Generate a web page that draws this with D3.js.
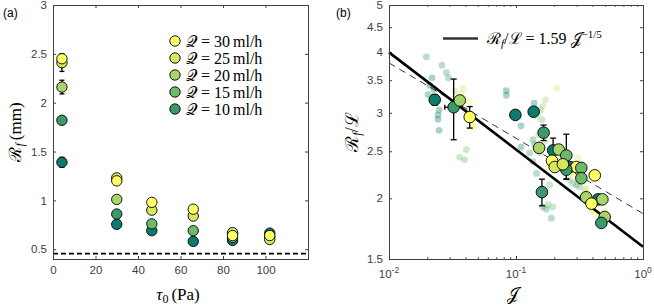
<!DOCTYPE html>
<html><head><meta charset="utf-8">
<script src="https://cdn.jsdelivr.net/npm/d3@7"></script>
<style>
body{margin:0;background:#fff;}
</style></head>
<body>
<svg id="c" width="654" height="308"></svg>
<script>
// ---------- DATA ----------
const palette = ["#0b7b6b","#3a9a6a","#6dbb6a","#a8d46a","#d8e85c","#ffff66"];
// panel (a)
const tau0 = [4.2, 30, 46.5, 66, 84.5, 102];
const seriesA = [
  {name:"Q5",  c:0, v:[1.39, 0.755, 0.69, 0.58, 0.59, 0.665], e:[0.05,0,0,0,0.03,0]},
  {name:"Q10", c:1, v:[1.82, 0.86, null, null, null, null],  e:[0,0,0,0,0,0]},
  {name:"Q15", c:2, v:[null, null, 0.76, 0.69, 0.62, 0.63],  e:[0,0,0,0,0,0]},
  {name:"Q20", c:3, v:[2.16, 1.01, null, null, 0.66, null],  e:[0.07,0,0,0,0,0]},
  {name:"Q25", c:4, v:[2.41, 1.23, 0.90, 0.84, 0.67, 0.60],  e:[0.09,0,0,0,0,0]},
  {name:"Q30", c:5, v:[2.45, 1.20, 0.98, 0.91, 0.64, 0.64],  e:[0,0,0,0,0,0]}
];
const legendQ = ["30","25","20","15","10"];
const legendC = [5,4,3,2,1];
const minR = 0.455;
const xTicksA = [0,20,40,60,80,100];
const yTicksA = [0.5,1,1.5,2,2.5,3];

// panel (b) background (faint) points
const fJ = [0.0197,0.0261,0.0283,0.0294,0.0218,0.0209,0.0203,0.0248,0.0243,0.0248,0.0243,0.0225,
  0.0329,0.0383,0.0372,0.0372,0.0432,0.0446,0.0462,0.0462,0.0407,0.036,0.0394,0.040,0.042,
  0.084,0.084,0.1096,0.1096,0.139,0.163,0.170,0.156,0.21,0.148,0.16,
  0.128,0.136,0.145,0.136,0.170,0.156,0.179,0.184,0.163,0.173,0.190,0.179,0.195,0.15,0.14,
  0.265,0.281,0.318,0.347,0.38,0.393,0.417,0.402,0.43,0.499,0.308,0.337,0.299,
  0.20,0.22,0.25,0.23,0.27,0.29,0.36,0.40,0.45];
const fR = [3.91,3.76,3.63,3.54,3.54,3.42,3.27,3.04,2.91,2.76,2.97,3.35,
  3.32,3.37,3.21,3.29,3.16,2.88,2.82,2.79,2.52,2.43,2.40,3.02,2.95,
  3.33,3.26,2.82,2.55,3.14,3.10,3.19,3.04,3.37,2.95,2.90,
  2.48,2.38,2.25,2.64,2.62,2.48,2.31,2.13,1.92,1.90,1.82,1.94,1.92,2.70,2.58,
  2.18,2.15,2.11,2.08,1.98,1.90,1.88,1.89,1.86,1.88,2.42,2.32,2.13,
  2.30,2.36,2.28,2.40,2.25,2.24,2.10,2.02,1.95];
const fC = [1,1,1,1,0,0,0,0,0,0,0,0,
  3,4,4,4,5,5,5,5,2,2,2,4,5,
  0,0,0,0,0,3,3,2,4,3,2,
  1,1,1,1,3,2,5,2,1,1,1,2,2,3,1,
  2,2,2,3,4,5,5,4,5,4,4,4,1,
  5,5,4,4,3,5,4,5,4];
// panel (b) main points
const bJ = [0.0229,0.0323,0.0361,0.0432,0.0989,0.1377,0.165,0.152,0.196,0.217,0.249,0.192,0.2018,0.265,0.299,0.327,0.249,0.417,0.327,0.160,0.357,0.443,0.479,0.393,0.499,0.47,0.234];
const bR = [3.19,3.08,3.18,2.94,2.97,3.015,2.73,2.54,2.51,2.52,2.45,2.39,2.32,2.32,2.32,2.31,2.29,2.23,2.20,2.06,2.01,1.99,1.99,1.95,1.83,1.78,2.35];
const bC = [0,1,3,5,0,0,1,3,0,3,2,5,4,0,5,2,1,5,2,1,3,0,3,5,3,1,4];
const bE = [0.08,0.44,0,0.15,0,0,0.1,0,0.15,0,0.26,0,0,0,0,0,0.1,0,0,0.13,0,0,0,0,0,0,0];
const fitJ = [0.01, 1];
const fitR = [3.994, 1.59];
const dashJ = [0.01, 1];
const dashR = [3.80, 1.86];
const yTicksB = [1.5,2,2.5,3,3.5,4,4.5,5];
const xTicksB = [0.01,0.1,1];
const xLabelsB = ["-2","-1","0"];

// ---------- DRAW ----------
const svg = d3.select("#c");
const AX = "#404040";
const SANS = "'Liberation Sans', Arial, sans-serif";
const SERIF = "'Liberation Serif', 'DejaVu Serif', serif";

function box(g, x0,x1,y0,y1){
  g.append("rect").attr("x",x0).attr("y",y0).attr("width",x1-x0).attr("height",y1-y0)
   .attr("fill","none").attr("stroke",AX).attr("stroke-width",1).attr("shape-rendering","crispEdges");
}
function clean(g){
  g.select(".domain").remove();
  g.selectAll("line").attr("stroke",AX);
  g.selectAll("text").style("font-family",SANS).style("font-size","11.5px").attr("fill","#404040");
}
function stext(g){ return g.append("text").style("font-family",SERIF).attr("fill","#000"); }

// Panel A
const xA = d3.scaleLinear([0,120],[53,308]);
const yA = d3.scaleLinear([0.4,3],[259,5]);
const gA = svg.append("g");
gA.append("line").attr("x1",xA(0)).attr("x2",xA(120)).attr("y1",yA(minR)).attr("y2",yA(minR))
  .attr("stroke","#000").attr("stroke-width",1.6).attr("stroke-dasharray","5,3");
gA.append("g").attr("transform","translate(0,259)").call(d3.axisBottom(xA).tickValues(xTicksA).tickSize(-3).tickPadding(7)).call(clean);
gA.append("g").attr("transform","translate(0,5)").call(d3.axisTop(xA).tickValues(xTicksA).tickSize(-3).tickFormat("")).call(clean);
gA.append("g").attr("transform","translate(53,0)").call(d3.axisLeft(yA).tickValues(yTicksA).tickSize(-3).tickPadding(6).tickFormat(d3.format(""))).call(clean);
gA.append("g").attr("transform","translate(308,0)").call(d3.axisRight(yA).tickValues(yTicksA).tickSize(-3).tickFormat("")).call(clean);
box(gA,53,308,5,259);

seriesA.forEach(s=>{
  s.v.forEach((v,i)=>{
    if(v==null||!s.e[i]) return;
    const x=xA(tau0[i]);
    gA.append("line").attr("x1",x).attr("x2",x).attr("y1",yA(v-s.e[i])).attr("y2",yA(v+s.e[i])).attr("stroke","#000").attr("stroke-width",1.3);
    [v-s.e[i],v+s.e[i]].forEach(t=>gA.append("line").attr("x1",x-2.5).attr("x2",x+2.5).attr("y1",yA(t)).attr("y2",yA(t)).attr("stroke","#000").attr("stroke-width",1.3));
  });
});
seriesA.forEach(s=>{
  gA.selectAll(null).data(s.v.map((v,i)=>({x:tau0[i],y:v})).filter(d=>d.y!=null)).enter()
    .append("circle").attr("cx",d=>xA(d.x)).attr("cy",d=>yA(d.y)).attr("r",5.2)
    .attr("fill",palette[s.c]).attr("stroke","#000").attr("stroke-width",0.9);
});
legendQ.forEach((q,i)=>{
  const y=41+i*17;
  gA.append("circle").attr("cx",175).attr("cy",y).attr("r",5.2).attr("fill",palette[legendC[i]]).attr("stroke","#000").attr("stroke-width",0.9);
  const t=stext(gA).attr("x",186).attr("y",y+5.5).style("font-size","16px");
  t.append("tspan").text("𝒬");
  t.append("tspan").text(" = "+q);
  t.append("tspan").attr("dx",3).text("ml/h");
});
gA.append("text").style("font-family",SANS).attr("x",3).attr("y",17).style("font-size","12px").attr("fill","#000").text("(a)");
const xlA = stext(gA).attr("x",178).attr("y",300).attr("text-anchor","middle").style("font-size","17px");
xlA.append("tspan").attr("font-style","italic").text("τ");
xlA.append("tspan").style("font-size","12px").attr("dy",3).text("0");
xlA.append("tspan").attr("dy",-3).attr("dx",3).text("(Pa)");
const ylA = stext(gA).attr("transform","translate(21,132) rotate(-90)").attr("text-anchor","middle").style("font-size","17px");
ylA.append("tspan").text("ℛ");
ylA.append("tspan").style("font-size","12px").attr("font-style","italic").attr("dy",3).text("f");
ylA.append("tspan").attr("dy",-3).attr("dx",3).text("(mm)");

// Panel B
const xB = d3.scaleLog([0.01,1],[389,643]);
const yB = d3.scaleLog([1.5,5],[259,5]);
const gB = svg.append("g");
const minorX = [];
[0.01,0.1].forEach(d=>{for(let k=2;k<10;k++) minorX.push(d*k);});
gB.append("g").attr("transform","translate(0,259)").call(d3.axisBottom(xB).tickValues(minorX).tickSize(-1.8).tickFormat("")).call(clean);
gB.append("g").attr("transform","translate(0,5)").call(d3.axisTop(xB).tickValues(minorX).tickSize(-1.8).tickFormat("")).call(clean);
gB.append("g").attr("transform","translate(0,259)").call(d3.axisBottom(xB).tickValues(xTicksB).tickSize(-3).tickFormat("")).call(clean);
gB.append("g").attr("transform","translate(0,5)").call(d3.axisTop(xB).tickValues(xTicksB).tickSize(-3).tickFormat("")).call(clean);
gB.append("g").attr("transform","translate(389,0)").call(d3.axisLeft(yB).tickValues(yTicksB).tickSize(-3).tickPadding(6).tickFormat(d3.format(""))).call(clean);
gB.append("g").attr("transform","translate(643,0)").call(d3.axisRight(yB).tickValues(yTicksB).tickSize(-3).tickFormat("")).call(clean);
xTicksB.forEach((v,i)=>{
  const t=gB.append("text").style("font-family",SANS).attr("x",xB(v)).attr("y",278).attr("text-anchor","middle").style("font-size","11.5px").attr("fill","#404040");
  t.append("tspan").text("10");
  t.append("tspan").attr("dy",-5).style("font-size","8.5px").text(xLabelsB[i]);
});

gB.selectAll(null).data(fJ.map((j,i)=>({j,r:fR[i],c:fC[i]}))).enter().append("circle")
  .attr("cx",d=>xB(d.j)).attr("cy",d=>yB(d.r)).attr("r",3.4).attr("fill",d=>palette[d.c]).attr("fill-opacity",0.35);
const lineB = d3.line().x(d=>xB(d[0])).y(d=>yB(d[1]));
gB.append("path").attr("d",lineB(dashJ.map((j,i)=>[j,dashR[i]]))).attr("fill","none").attr("stroke","#000").attr("stroke-width",0.8).attr("stroke-dasharray","7,5");
gB.append("path").attr("d",lineB(fitJ.map((j,i)=>[j,fitR[i]]))).attr("fill","none").attr("stroke","#000").attr("stroke-width",2.6);
bJ.forEach((j,i)=>{
  if(!bE[i]) return;
  const x=xB(j);
  gB.append("line").attr("x1",x).attr("x2",x).attr("y1",yB(bR[i]-bE[i])).attr("y2",yB(bR[i]+bE[i])).attr("stroke","#000").attr("stroke-width",1.3);
  [bR[i]-bE[i],bR[i]+bE[i]].forEach(t=>gB.append("line").attr("x1",x-3).attr("x2",x+3).attr("y1",yB(t)).attr("y2",yB(t)).attr("stroke","#000").attr("stroke-width",1.3));
});
{
  const i=1, y=yB(bR[i]);
  gB.append("line").attr("x1",xB(0.0275)).attr("x2",xB(bJ[i])).attr("y1",y).attr("y2",y).attr("stroke","#000").attr("stroke-width",1.3);
  gB.append("line").attr("x1",xB(0.0275)).attr("x2",xB(0.0275)).attr("y1",y-2.5).attr("y2",y+2.5).attr("stroke","#000").attr("stroke-width",1.3);
}
gB.selectAll(null).data(bJ.map((j,i)=>({j,r:bR[i],c:bC[i]}))).enter().append("circle")
  .attr("cx",d=>xB(d.j)).attr("cy",d=>yB(d.r)).attr("r",5.8).attr("fill",d=>palette[d.c]).attr("stroke","#000").attr("stroke-width",0.9);
box(gB,389,643,5,259);
gB.append("line").attr("x1",443).attr("x2",478).attr("y1",38.5).attr("y2",38.5).attr("stroke","#333").attr("stroke-width",2.6);
const lt = stext(gB).attr("x",487).attr("y",44).style("font-size","16px");
lt.append("tspan").text("ℛ");
lt.append("tspan").style("font-size","11px").attr("font-style","italic").attr("dy",3).text("f");
lt.append("tspan").attr("dy",-3).text("/ℒ = 1.59 ");
lt.append("tspan").text("𝒥");
lt.append("tspan").style("font-size","11px").attr("dy",-6).text("−1/5");
gB.append("text").style("font-family",SANS).attr("x",336).attr("y",17).style("font-size","12px").attr("fill","#000").text("(b)");
stext(gB).attr("x",513).attr("y",300).attr("text-anchor","middle").style("font-size","17px").text("𝒥");
const ylB = stext(gB).attr("transform","translate(358,132) rotate(-90)").attr("text-anchor","middle").style("font-size","18px");
ylB.append("tspan").text("ℛ");
ylB.append("tspan").style("font-size","12px").attr("font-style","italic").attr("dy",3).text("f");
ylB.append("tspan").attr("dy",-3).text("/ℒ");
</script>
</body></html>
